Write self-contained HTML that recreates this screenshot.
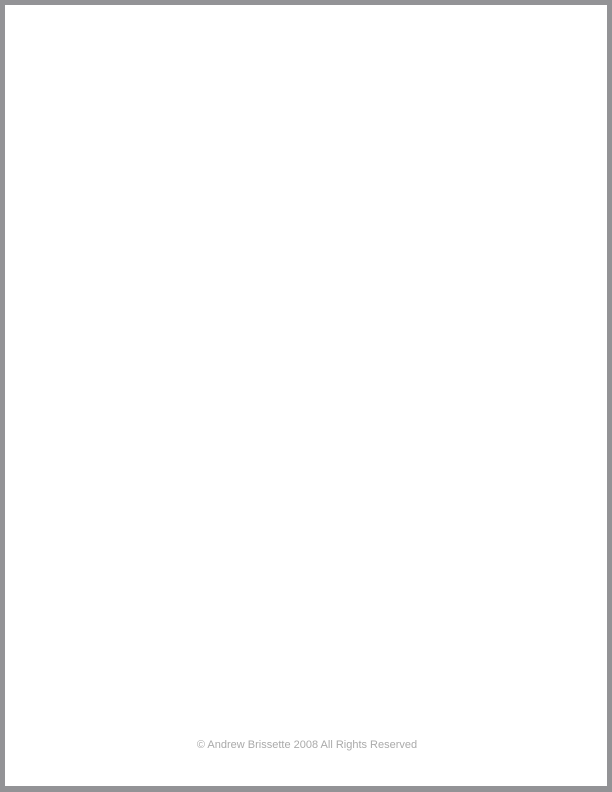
<!DOCTYPE html>
<html><head><style>
html,body{margin:0;padding:0;}
body{width:612px;height:792px;background:#939396;position:relative;overflow:hidden;}
.page{position:absolute;left:5px;top:5px;width:602px;height:781px;background:#fff;}
.f{position:absolute;left:0;width:614px;top:739px;text-align:center;font-family:"Liberation Sans",sans-serif;font-size:11px;color:#aaaaaa;letter-spacing:0;}
</style></head><body>
<div class="page"></div>
<div class="f">© Andrew Brissette 2008 All Rights Reserved</div>
</body></html>
